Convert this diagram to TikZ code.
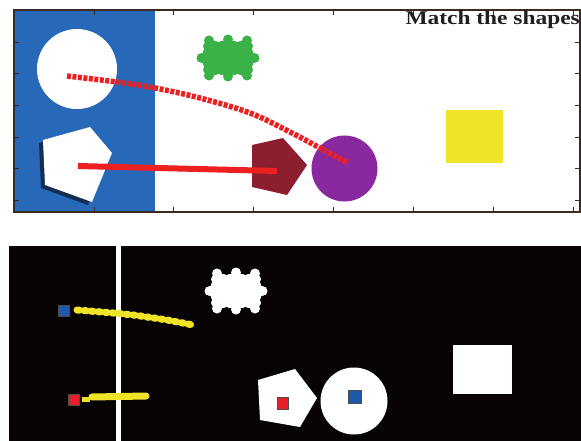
\documentclass[tikz,border=0pt]{standalone}
\usepackage{fontspec}
\setmainfont{Liberation Serif}
\definecolor{plotblue}{RGB}{40,104,184}
\definecolor{geargreen}{RGB}{58,178,72}
\definecolor{maroon}{RGB}{140,30,48}
\definecolor{purp}{RGB}{138,40,160}
\definecolor{yel}{RGB}{240,228,40}
\definecolor{dotred}{RGB}{236,32,32}
\definecolor{axis}{RGB}{60,42,32}
\definecolor{mkblue}{RGB}{30,88,170}
\definecolor{mkred}{RGB}{232,30,40}
\definecolor{nearblack}{RGB}{8,3,3}
\newcommand{\gearblob}[4]{%
  \begin{scope}[shift={(#1,#2)}]
    \fill[#3, rounded corners=6pt] (-25,-17) rectangle (25,17);
    \foreach \p in {(-19,-17.5),(0,-18.5),(19,-17.5),(-19,17.5),(0,18.5),(19,17.5)} \fill[#3] \p circle (5);
    \foreach \p in {(-26,0),(26,0)} \fill[#3] \p circle (5.5);
    \foreach \p in {(-9.5,-21),(9.5,-21),(-9.5,21),(9.5,21),(-29,-9),(29,-9),(-29,9),(29,9)} \fill[#4] \p circle (5);
  \end{scope}}
\tikzset{
  tick/.style={axis, line width=0.8pt},
  marker/.style={draw=black!70, line width=0.6pt, minimum size=11.5pt, inner sep=0pt},
  reddots/.style={dotred, line width=5.5pt, dash pattern=on 4pt off 1.5pt},
  yeldots/.style={yel, line width=7pt, line cap=round, dash pattern=on 2.5pt off 4.5pt}
}
\begin{document}
\begin{tikzpicture}[x=1pt,y=-1pt]
\useasboundingbox (0,0) rectangle (581,441);
\fill[white] (0,0) rectangle (581,441);
% ---------- top panel ----------
\fill[plotblue] (14,10) rectangle (155,212);
% white circle
\fill[white] (77,69) circle (40);
% white pentagon with shadow
\fill[plotblue!45!black] (39,143) -- (86,130) -- (108,156) -- (88,205) -- (41,188) -- cycle;
\fill[white] (43,140) -- (90,127) -- (112,153) -- (92,202) -- (45,185) -- cycle;
% green gear
\gearblob{228}{58}{geargreen}{white}
% maroon pentagon
\fill[maroon] (252,145) -- (283,138) -- (307,165) -- (287,195) -- (252,187) -- cycle;
% purple circle
\fill[purp] (344.5,168.5) circle (33);
% yellow square
\fill[yel] (446,110) rectangle (503,163);
% red tracks
\draw[reddots] plot[smooth, tension=0.6] coordinates {(67,76) (117,82) (155,88) (200,98) (250,113) (290,132) (320,148) (348,163)};
\draw[dotred, line width=6pt] (78,166) -- (277,171);
% frame and ticks
\draw[axis, line width=1.2pt] (14,10) rectangle (580,212);
\foreach \x in {94,173,253,333,413,493,573} {
  \draw[tick] (\x,212) -- (\x,207);
  \draw[tick] (\x,10) -- (\x,15);
}
\foreach \y in {42,73,105,137,168,200} {
  \draw[tick] (14,\y) -- (19,\y);
  \draw[tick] (580,\y) -- (575,\y);
}
\node[anchor=base east, font=\bfseries\fontsize{19.5}{20}\selectfont, xscale=1.2, inner sep=0pt, text=black!88] (title) at (580,25) {Match the shapes};
% ---------- bottom panel ----------
\fill[nearblack] (9,246) rectangle (581,441);
\draw[white, line width=5pt] (118,246) -- (118,441);
\gearblob{236}{291}{white}{nearblack}
% white pentagon
\fill[white] (258,380) -- (295,369) -- (317,398) -- (300,427) -- (260,420) -- cycle;
% white circle
\fill[white] (354,401) circle (33.5);
% white rectangle
\fill[white] (453,345) rectangle (512,394);
% yellow tracks
\draw[yeldots] plot[smooth] coordinates {(77,310) (113,313) (133,315) (147,317) (167,320) (193,325)};
\draw[yel, line width=5pt] (82,399) -- (90,399);
\draw[yel, line width=7pt, line cap=round] (92,397) -- (146,396);
% markers
\node[marker, fill=mkblue] (m1) at (64,311) {};
\node[marker, fill=mkred] (m2) at (74,400) {};
\node[marker, fill=mkred] (m3) at (283,403.5) {};
\node[marker, fill=mkblue, minimum size=13pt] (m4) at (355,397) {};
\end{tikzpicture}
\end{document}
